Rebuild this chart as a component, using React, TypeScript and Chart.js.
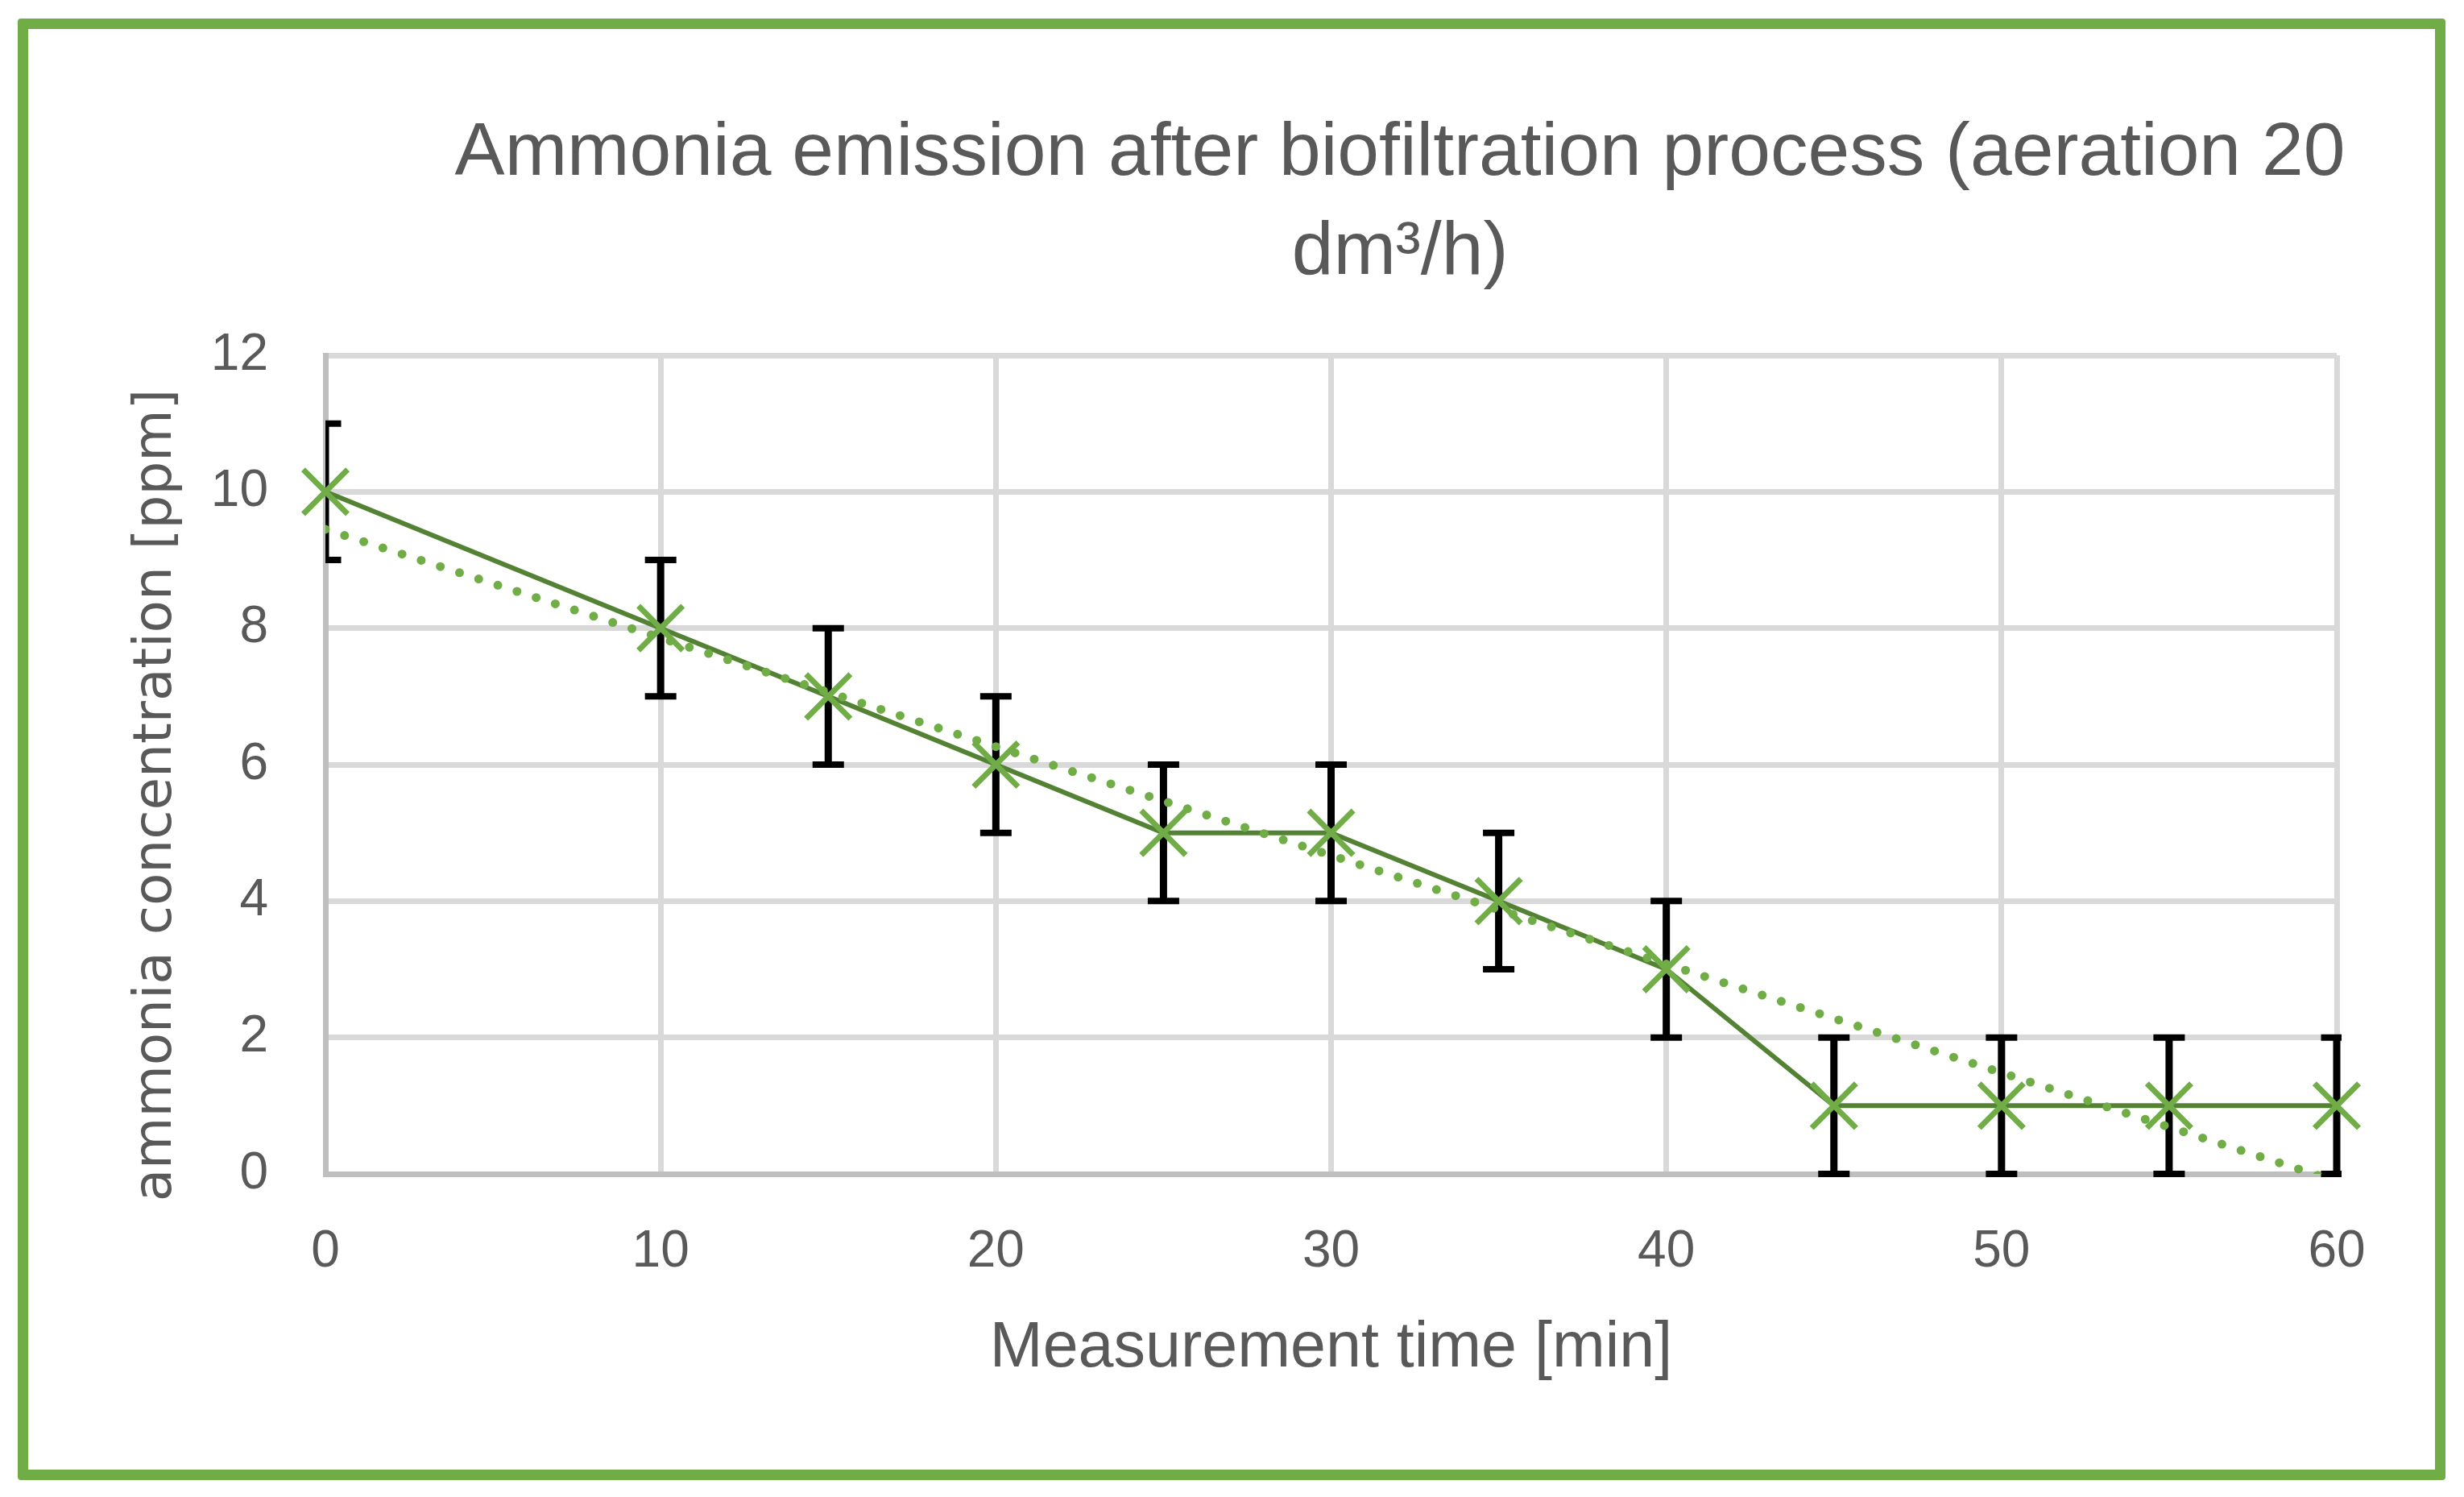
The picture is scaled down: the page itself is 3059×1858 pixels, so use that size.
import { useEffect, useRef } from "react"
import { Chart, registerables } from "chart.js"

Chart.register(...registerables)

const TIME_MIN = [0, 10, 15, 20, 25, 30, 35, 40, 45, 50, 55, 60]
const AMMONIA_PPM = [10, 8, 7, 6, 5, 5, 4, 3, 1, 1, 1, 1]
const ERROR_PLUS = [1, 1, 1, 1, 1, 1, 1, 1, 1, 1, 1, 1]
const ERROR_MINUS = [1, 1, 1, 1, 1, 1, 1, 1, 1, 1, 1, 1]

// dotted trend line at its two ends
const TREND_X = [0, 60]
const TREND_Y = [9.45, -0.11]

const TITLE_LINES = ["Ammonia emission after biofiltration process (aeration 20", "dm³/h)"]
const X_TITLE = "Measurement time [min]"
const Y_TITLE = "ammonia concentration [ppm]"

const TEXT_COLOR = "#595959"
const GREEN = "#70AD47"
const DARK_GREEN = "#548235"

const errorBarPlugin = {
  id: "errorBars",
  beforeDatasetsDraw(chart: Chart) {
    const { ctx, chartArea, scales } = chart
    const xs = scales.x
    const ys = scales.y
    ctx.save()
    ctx.beginPath()
    ctx.rect(chartArea.left, chartArea.top - 6, chartArea.right - chartArea.left + 6, chartArea.bottom - chartArea.top + 12)
    ctx.clip()
    ctx.strokeStyle = "#000000"
    TIME_MIN.forEach((t, i) => {
      const px = xs.getPixelForValue(t)
      const top = ys.getPixelForValue(AMMONIA_PPM[i] + ERROR_PLUS[i])
      const bottom = ys.getPixelForValue(AMMONIA_PPM[i] - ERROR_MINUS[i])
      ctx.lineWidth = 9
      ctx.beginPath()
      ctx.moveTo(px, top)
      ctx.lineTo(px, bottom)
      ctx.stroke()
      ctx.lineWidth = 8
      ctx.beginPath()
      ctx.moveTo(px - 19.5, top)
      ctx.lineTo(px + 19.5, top)
      ctx.moveTo(px - 19.5, bottom)
      ctx.lineTo(px + 19.5, bottom)
      ctx.stroke()
    })
    ctx.restore()
  },
}

// chart title sits right of centre and the y title is drawn in a wider face, as in the original
const textPlugin = {
  id: "chartTexts",
  afterDraw(chart: Chart) {
    const { ctx } = chart
    ctx.save()
    ctx.fillStyle = TEXT_COLOR
    ctx.textAlign = "center"
    ctx.textBaseline = "alphabetic"
    ctx.font = "93px 'Liberation Sans'"
    ctx.fillText(TITLE_LINES[0], 1738, 217)
    ctx.fillText(TITLE_LINES[1], 1738, 340)

    ctx.translate(212, 987)
    ctx.rotate(-Math.PI / 2)
    ctx.font = "66px 'DejaVu Sans'"
    ctx.fillText(Y_TITLE, 0, 0)
    ctx.restore()
  },
}

export default function App() {
  const chartRef = useRef<HTMLCanvasElement | null>(null)
  const chartInstance = useRef<Chart | null>(null)

  useEffect(() => {
    document.body.style.margin = "0"
    document.body.style.overflow = "hidden"
    if (!chartRef.current) return

    if (chartInstance.current) {
      chartInstance.current.destroy()
    }

    const ctx = chartRef.current.getContext("2d")
    if (!ctx) return

    chartInstance.current = new Chart(ctx, {
      type: "scatter",
      data: {
        datasets: [
          {
            label: "Trend",
            data: TREND_X.map((x, i) => ({ x, y: TREND_Y[i] })),
            showLine: true,
            borderColor: GREEN,
            borderWidth: 11,
            borderDash: [0, 25],
            borderCapStyle: "round",
            pointRadius: 0,
            clip: 0,
            order: 1,
          },
          {
            label: "Ammonia",
            data: TIME_MIN.map((x, i) => ({ x, y: AMMONIA_PPM[i] })),
            showLine: true,
            borderColor: DARK_GREEN,
            borderWidth: 6,
            pointStyle: "crossRot",
            pointRadius: 39,
            pointBorderWidth: 7,
            pointBorderColor: GREEN,
            pointBackgroundColor: GREEN,
            clip: false,
            order: 2,
          },
        ],
      },
      options: {
        responsive: false,
        animation: false,
        events: [],
        layout: {
          padding: { top: 441, right: 158, bottom: 0, left: 0 },
        },
        plugins: {
          legend: { display: false },
          tooltip: { enabled: false },
          title: { display: false },
        },
        scales: {
          x: {
            type: "linear",
            min: 0,
            max: 60,
            afterFit: (scale) => {
              scale.height = 401
            },
            grid: { color: "#D9D9D9", lineWidth: 7, drawTicks: false },
            border: { color: "#BFBFBF", width: 7 },
            ticks: {
              stepSize: 10,
              padding: 59,
              color: TEXT_COLOR,
              font: { family: "'Liberation Sans'", size: 64 },
            },
            title: {
              display: true,
              text: X_TITLE,
              color: TEXT_COLOR,
              font: { family: "'Liberation Sans'", size: 79 },
              padding: { top: 0, bottom: 136 },
            },
          },
          y: {
            type: "linear",
            min: 0,
            max: 12,
            afterFit: (scale) => {
              scale.width = 404
            },
            grid: { color: "#D9D9D9", lineWidth: 7, drawTicks: false },
            border: { color: "#BFBFBF", width: 7 },
            ticks: {
              stepSize: 2,
              padding: 71,
              color: TEXT_COLOR,
              font: { family: "'Liberation Sans'", size: 64 },
            },
          },
        },
      },
      plugins: [errorBarPlugin, textPlugin],
    })

    return () => {
      if (chartInstance.current) {
        chartInstance.current.destroy()
        chartInstance.current = null
      }
    }
  }, [])

  return (
    <div style={{ position: "relative", width: 3059, height: 1858, background: "#ffffff" }}>
      <canvas ref={chartRef} width={3059} height={1858} style={{ display: "block" }} />
      <div
        style={{
          position: "absolute",
          left: 22,
          top: 23,
          width: 3014,
          height: 1814,
          boxSizing: "border-box",
          border: `13px solid ${GREEN}`,
          borderRadius: 4,
          pointerEvents: "none",
        }}
      />
    </div>
  )
}
